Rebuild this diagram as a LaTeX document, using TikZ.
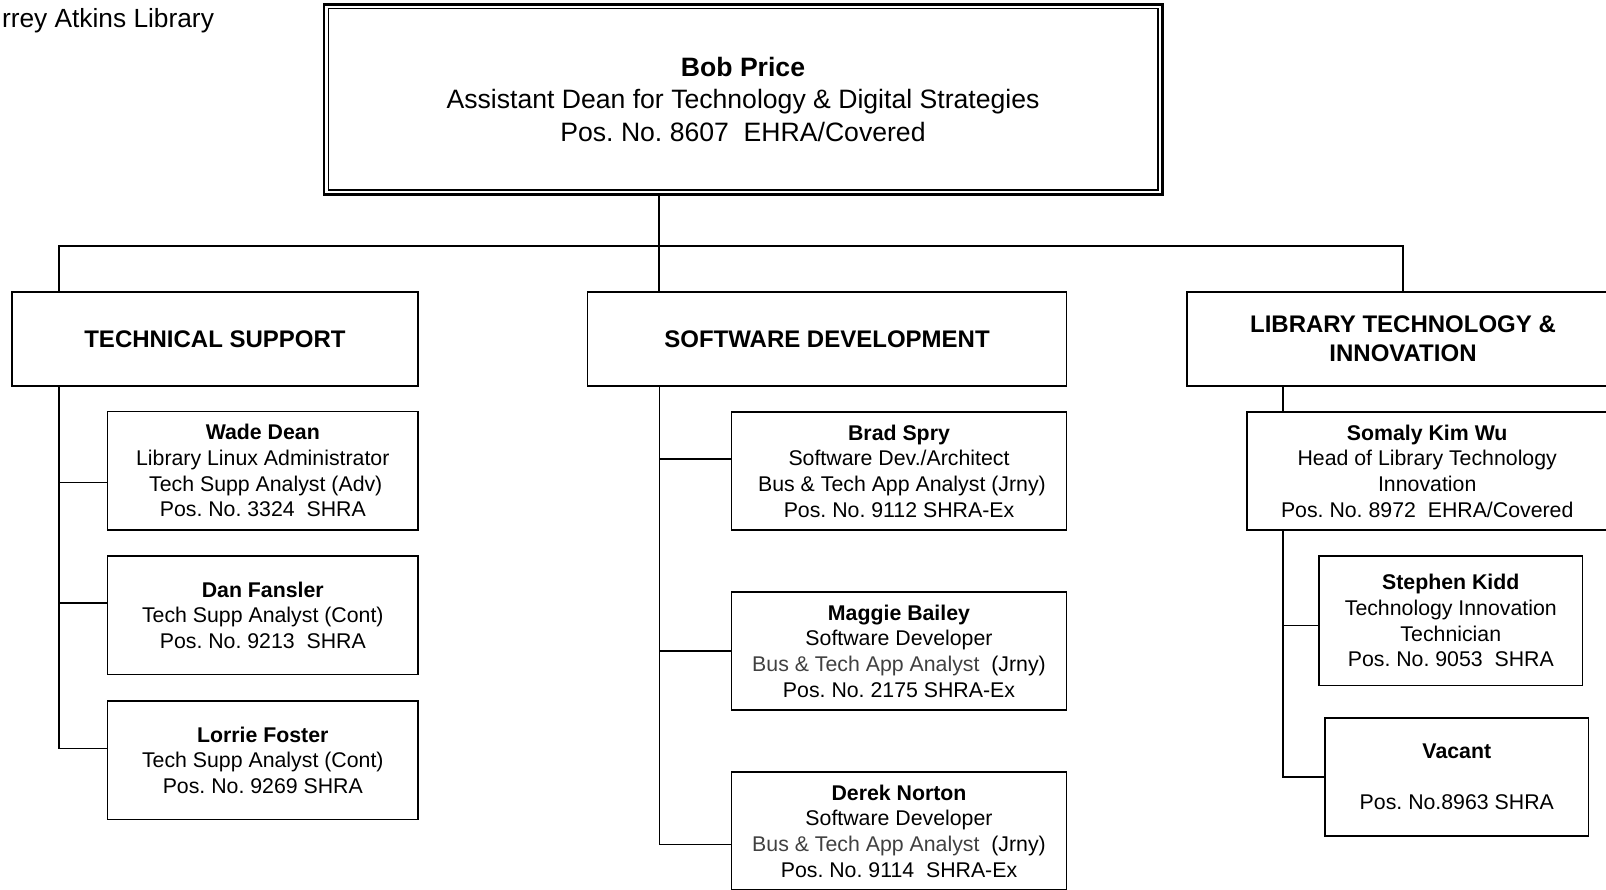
\documentclass[tikz,border=0pt]{standalone}
\usepackage{fontspec}
\setmainfont{Liberation Sans}
\usepackage{tikz}
\usetikzlibrary{positioning}
\definecolor{analystgray}{HTML}{404040}
\frenchspacing

\begin{document}
\begin{tikzpicture}[x=1pt,y=-1pt,
     head/.style={draw,line width=2.7pt,align=center,inner sep=0pt,
          font=\fontsize{26.6}{32.3}\selectfont},
     dept/.style={draw,line width=1.6pt,align=center,inner sep=0pt,minimum height=94.4pt,
          font=\fontsize{24}{28.7}\selectfont\bfseries},
     staff/.style={draw,line width=1.6pt,align=center,inner sep=0pt,minimum height=118.4pt,
          font=\fontsize{21.3}{25.6}\selectfont},
     link/.style={line width=1.6pt}]
          \useasboundingbox (0,0) rectangle (1606,889);
          \node [anchor=base west,font=\fontsize{26.3}{32}\selectfont] (lib) at (-1.5,27.3) {rrey Atkins Library};
          \node [head,minimum width=838.3pt,minimum height=189.9pt] (boss) at (743,99.3)
               {\textbf{Bob Price}\\Assistant Dean for Technology \& Digital Strategies\\Pos. No. 8607~ EHRA/Covered};
          \draw [line width=1.2pt] ([shift={(5.6,5.6)}]boss.north west) rectangle ([shift={(-5.6,-5.6)}]boss.south east);
          \node [dept,minimum width=406.4pt] (ts) at (215,339) {TECHNICAL SUPPORT};
          \node [dept,minimum width=479pt] (sd) at (827,339) {SOFTWARE DEVELOPMENT};
          \node [dept,minimum width=432.4pt] (lti) at (1403,339) {LIBRARY TECHNOLOGY \&\\INNOVATION};
          \node [staff,minimum width=310.8pt] (wade) at (262.8,470.7)
               {\textbf{Wade Dean}\\Library Linux Administrator\\~Tech Supp Analyst (Adv)\\Pos. No. 3324~ SHRA};
          \node [staff,minimum width=310.8pt,below=24.5pt of wade] (dan)
               {\textbf{Dan Fansler}\\Tech Supp Analyst (Cont)\\Pos. No. 9213~ SHRA};
          \node [staff,minimum width=310.8pt,below=25pt of dan] (lorrie)
               {\textbf{Lorrie Foster}\\Tech Supp Analyst (Cont)\\Pos. No. 9269 SHRA};
          \node [staff,minimum width=335pt] (brad) at (899,471)
               {\textbf{Brad Spry}\\Software Dev./Architect\\~Bus \& Tech App Analyst (Jrny)\\Pos. No. 9112 SHRA-Ex};
          \node [staff,minimum width=335pt,below=60pt of brad] (maggie)
               {\textbf{Maggie Bailey}\\Software Developer\\{\color{analystgray}Bus \& Tech App Analyst}~ (Jrny)\\Pos. No. 2175 SHRA-Ex};
          \node [staff,minimum width=335pt,below=60pt of maggie] (derek)
               {\textbf{Derek Norton}\\Software Developer\\{\color{analystgray}Bus \& Tech App Analyst}~ (Jrny)\\Pos. No. 9114~ SHRA-Ex};
          \node [staff,minimum width=360pt] (somaly) at (1427.2,471)
               {\textbf{Somaly Kim Wu}\\Head of Library Technology\\Innovation\\Pos. No. 8972~ EHRA/Covered};
          \node [staff,minimum width=263.4pt,minimum height=129.5pt] (stephen) at (1450.8,620.6)
               {\textbf{Stephen Kidd}\\Technology Innovation\\Technician\\Pos. No. 9053~ SHRA};
          \node [staff,minimum width=263.4pt] (vacant) at (1456.8,777)
               {\textbf{Vacant}\\[25.6pt]Pos. No.8963 SHRA};
          \coordinate (bus) at (659,245.7);
          \coordinate (tsline) at (59,0);
          \coordinate (sdline) at (659.5,0);
          \coordinate (ltiline) at (1283,0);
          \draw [link] (boss.south -| bus) -- (sd.north -| bus);
          \draw [link] (ts.north -| tsline) |- (bus) -| (lti.north);
          \draw [link] (ts.south -| tsline) |- ([yshift=-11.7pt]wade.west);
          \draw [link] (ts.south -| tsline) |- ([yshift=12.5pt]dan.west);
          \draw [link] (ts.south -| tsline) |- ([yshift=11.9pt]lorrie.west);
          \draw [link] (sd.south -| sdline) |- ([yshift=12pt]brad.west);
          \draw [link] (sd.south -| sdline) |- (maggie.west);
          \draw [link] (sd.south -| sdline) |- ([yshift=-13.5pt]derek.west);
          \draw [link] (lti.south -| ltiline) -- (somaly.north -| ltiline);
          \draw [link] (somaly.south -| ltiline) |- ([yshift=-5pt]stephen.west);
          \draw [link] (somaly.south -| ltiline) |- (vacant.west);
     \end{tikzpicture}
\end{document}
